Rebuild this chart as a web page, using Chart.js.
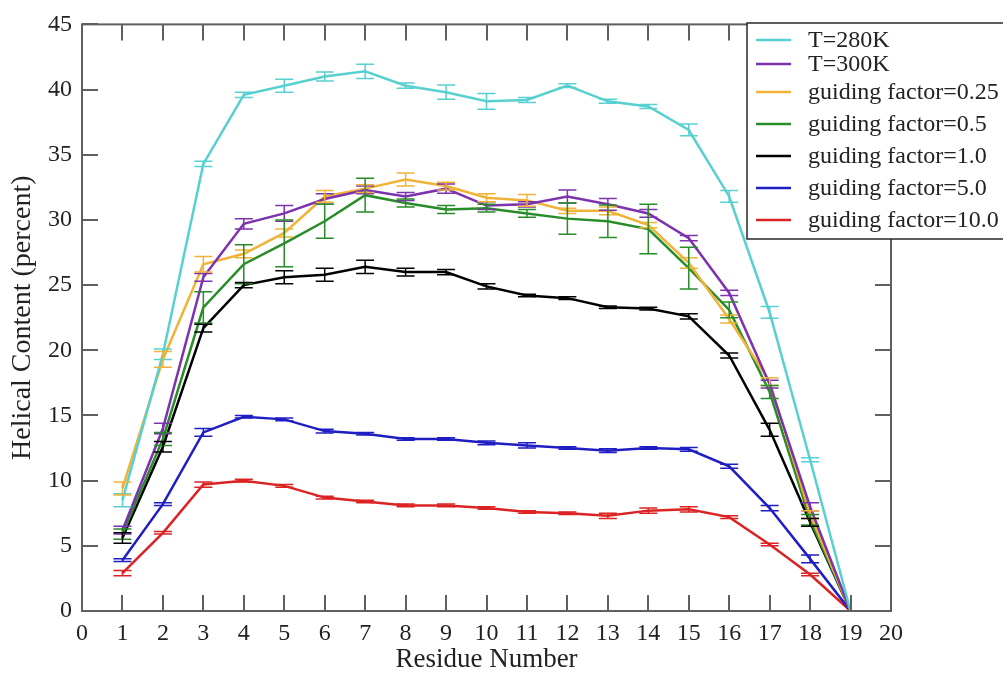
<!DOCTYPE html>
<html>
<head>
<meta charset="utf-8">
<script src="https://cdn.jsdelivr.net/npm/chart.js@4.4.0/dist/chart.umd.min.js"></script>
<style>
  html, body { margin: 0; padding: 0; background: #fff; }
  #wrap { width: 1003px; height: 673px; }
</style>
</head>
<body>
<div id="wrap"><canvas id="helixChart" width="1003" height="673"></canvas></div>
<script>
// residue numbers
const residues = [1, 2, 3, 4, 5, 6, 7, 8, 9, 10, 11, 12, 13, 14, 15, 16, 17, 18, 19];

// series values (percent)
const t280 = [8.5, 19.7, 34.3, 39.6, 40.3, 41.0, 41.4, 40.3, 39.8, 39.1, 39.2, 40.3, 39.1, 38.7, 36.9, 31.8, 22.9, 11.6, 0];
const t300 = [6.2, 14.0, 25.6, 29.7, 30.5, 31.6, 32.3, 31.8, 32.4, 31.1, 31.2, 31.8, 31.2, 30.5, 28.6, 24.4, 17.4, 8.0, 0];
const gf025 = [9.4, 19.3, 26.6, 27.4, 29.0, 31.8, 32.4, 33.1, 32.6, 31.7, 31.5, 30.7, 30.7, 29.6, 26.7, 22.4, 17.6, 7.4, 0];
const gf05 = [5.9, 13.2, 23.3, 26.6, 28.2, 29.9, 31.9, 31.3, 30.8, 30.9, 30.5, 30.1, 29.9, 29.3, 26.3, 23.1, 16.8, 7.0, 0];
const gf10 = [5.6, 12.6, 21.7, 25.0, 25.6, 25.8, 26.4, 26.0, 26.0, 24.9, 24.2, 24.0, 23.3, 23.2, 22.6, 19.6, 13.9, 6.8, 0];
const gf50 = [3.9, 8.2, 13.7, 14.9, 14.7, 13.8, 13.6, 13.2, 13.2, 12.9, 12.7, 12.5, 12.3, 12.5, 12.4, 11.1, 7.9, 4.0, 0];
const gf100 = [2.9, 6.0, 9.7, 10.0, 9.6, 8.7, 8.4, 8.1, 8.1, 7.9, 7.6, 7.5, 7.3, 7.7, 7.8, 7.2, 5.1, 2.8, 0];

// error bar half widths
const t280Err = [0.5, 0.4, 0.2, 0.2, 0.5, 0.35, 0.55, 0.2, 0.55, 0.6, 0.2, 0.15, 0.15, 0.15, 0.45, 0.45, 0.45, 0.15, 0];
const t300Err = [0.3, 0.4, 0.3, 0.4, 0.6, 0.4, 0.3, 0.3, 0.35, 0.3, 0.2, 0.5, 0.45, 0.3, 0.2, 0.2, 0.3, 0.3, 0];
const gf025Err = [0.5, 0.6, 0.6, 0.3, 0.3, 0.45, 0.3, 0.5, 0.3, 0.3, 0.45, 0.2, 0.3, 0.2, 0.4, 0.3, 0.3, 0.3, 0];
const gf05Err = [0.4, 0.5, 1.2, 1.5, 1.8, 1.3, 1.3, 0.3, 0.3, 0.3, 0.3, 1.2, 1.25, 1.9, 1.6, 0.6, 0.5, 0.4, 0];
const gf10Err = [0.4, 0.4, 0.3, 0.2, 0.5, 0.5, 0.5, 0.3, 0.2, 0.2, 0.1, 0.1, 0.1, 0.1, 0.2, 0.2, 0.5, 0.3, 0];
const gf50Err = [0.1, 0.1, 0.3, 0.1, 0.1, 0.15, 0.1, 0.1, 0.1, 0.15, 0.2, 0.1, 0.15, 0.1, 0.15, 0.15, 0.2, 0.3, 0];
const gf100Err = [0.2, 0.1, 0.2, 0.1, 0.1, 0.1, 0.1, 0.1, 0.1, 0.1, 0.1, 0.1, 0.2, 0.2, 0.2, 0.1, 0.1, 0.1, 0];

const seriesNames = ['T=280K', 'T=300K', 'guiding factor=0.25', 'guiding factor=0.5', 'guiding factor=1.0', 'guiding factor=5.0', 'guiding factor=10.0'];
const seriesValues = [t280, t300, gf025, gf05, gf10, gf50, gf100];
const seriesErrors = [t280Err, t300Err, gf025Err, gf05Err, gf10Err, gf50Err, gf100Err];
const seriesColors = ['rgb(88,208,208)', 'rgb(125,50,175)', 'rgb(240,178,55)', 'rgb(40,140,40)', 'rgb(0,0,0)', 'rgb(30,30,195)', 'rgb(220,35,35)'];

const FONT = '"Liberation Serif", "DejaVu Serif", serif';
const AXIS_COLOR = 'rgb(95,95,95)';

// 오차막대
const errorBars = {
    id: 'errorBars',
    afterDatasetsDraw(chart) {
        const ctx = chart.ctx;
        const xs = chart.scales.x, ys = chart.scales.y;
        ctx.save();
        chart.data.datasets.forEach((ds, d) => {
            ctx.strokeStyle = ds.borderColor;
            ctx.lineWidth = 1.5;
            ds.data.forEach((p, i) => {
                const e = seriesErrors[d][i];
                if (!e) return;
                const px = xs.getPixelForValue(p.x);
                const y1 = ys.getPixelForValue(p.y + e);
                const y2 = ys.getPixelForValue(p.y - e);
                ctx.beginPath();
                ctx.moveTo(px, y1); ctx.lineTo(px, y2);
                ctx.moveTo(px - 9, y1); ctx.lineTo(px + 9, y1);
                ctx.moveTo(px - 9, y2); ctx.lineTo(px + 9, y2);
                ctx.stroke();
            });
        });
        ctx.restore();
    }
};

// 테두리 + 안쪽 눈금
const frameTicks = {
    id: 'frameTicks',
    afterDraw(chart) {
        const ctx = chart.ctx;
        const a = chart.chartArea;
        const xs = chart.scales.x, ys = chart.scales.y;
        ctx.save();
        ctx.strokeStyle = AXIS_COLOR;
        ctx.lineWidth = 2;
        ctx.strokeRect(a.left, a.top, a.right - a.left, a.bottom - a.top);
        ctx.beginPath();
        xs.ticks.forEach(t => {
            const px = Math.round(xs.getPixelForValue(t.value));
            ctx.moveTo(px, a.bottom); ctx.lineTo(px, a.bottom - 16);
            ctx.moveTo(px, a.top); ctx.lineTo(px, a.top + 16);
        });
        ys.ticks.forEach(t => {
            const py = Math.round(ys.getPixelForValue(t.value));
            ctx.moveTo(a.left, py); ctx.lineTo(a.left + 16, py);
            ctx.moveTo(a.right, py); ctx.lineTo(a.right - 16, py);
        });
        ctx.stroke();
        ctx.restore();
    }
};

// 범례 (오른쪽 위, 그림 밖으로 나감)
const boxLegend = {
    id: 'boxLegend',
    afterDraw(chart) {
        const ctx = chart.ctx;
        const rowY = [40, 64, 92, 124, 156, 188, 220];
        ctx.save();
        ctx.fillStyle = '#fff';
        ctx.fillRect(747, 23, 270, 216);
        ctx.strokeStyle = 'rgb(40,40,40)';
        ctx.lineWidth = 1.5;
        ctx.strokeRect(747, 23, 270, 216);
        ctx.font = '24px ' + FONT;
        ctx.textBaseline = 'middle';
        chart.data.datasets.forEach((ds, i) => {
            ctx.strokeStyle = ds.borderColor;
            ctx.lineWidth = 2.5;
            ctx.beginPath();
            ctx.moveTo(756, rowY[i]); ctx.lineTo(791, rowY[i]);
            ctx.stroke();
            ctx.fillStyle = '#222';
            ctx.fillText(ds.label, 808, rowY[i] + 1);
        });
        ctx.restore();
    }
};

let ctx = document.getElementById('helixChart').getContext('2d');
let helixChart = new Chart(ctx, {
    type: 'line',
    data: {
        datasets: seriesNames.map((name, i) => ({
            label: name,
            data: residues.map((r, k) => ({ x: r, y: seriesValues[i][k] })),
            borderColor: seriesColors[i],
            backgroundColor: seriesColors[i],
            borderWidth: 2.5,
            pointRadius: 0,
            tension: 0,
            fill: false
        }))
    },
    options: {
        responsive: false,
        animation: false,
        layout: { padding: { top: 22, right: 112, left: 0, bottom: 0 } },
        plugins: {
            legend: { display: false },
            tooltip: { enabled: false }
        },
        scales: {
            x: {
                type: 'linear',
                min: 0,
                max: 20,
                grid: { display: false, drawTicks: false },
                border: { display: false },
                ticks: { stepSize: 1, padding: 8, color: '#222', font: { family: FONT, size: 24 }, maxRotation: 0, autoSkip: false },
                title: { display: true, text: 'Residue Number', color: '#222', font: { family: FONT, size: 27, lineHeight: 1 }, padding: { top: 0, bottom: 0 } },
                afterFit(s) { s.height = 62; }
            },
            y: {
                min: 0,
                max: 45,
                grid: { display: false, drawTicks: false },
                border: { display: false },
                ticks: { stepSize: 5, padding: 10, color: '#222', font: { family: FONT, size: 24 } },
                title: { display: true, text: 'Helical Content (percent)', color: '#222', font: { family: FONT, size: 28, lineHeight: 1 }, padding: { top: 9, bottom: 0 } },
                afterFit(s) { s.width = 82; }
            }
        }
    },
    plugins: [errorBars, frameTicks, boxLegend]
});
</script>
</body>
</html>
